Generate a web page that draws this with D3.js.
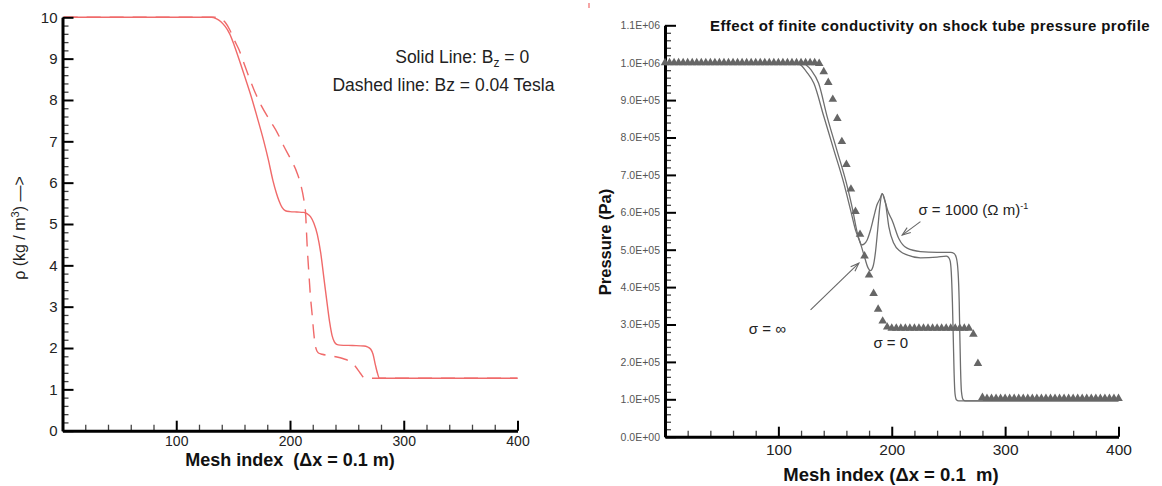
<!DOCTYPE html>
<html>
<head>
<meta charset="utf-8">
<script src="https://cdn.jsdelivr.net/npm/d3@7"></script>
<style>
  html, body { margin: 0; padding: 0; background: #fff; }
  svg { display: block; font-family: "Liberation Sans", Arial, sans-serif; }
</style>
</head>
<body>
<svg id="chart" width="1162" height="486"></svg>
<script>
// ---------------- DATA: left chart (density) ----------------
const solidX = [1, 131, 135, 139, 143, 147, 151, 156, 161, 166.8, 172, 177, 181, 185, 188, 190.5, 193, 196, 200, 206, 212, 215, 218, 221, 224, 227, 230, 233, 235, 237, 239, 241, 244, 255, 265, 268, 271, 273, 275, 277, 278.5, 400];
const solidY = [10, 10, 9.97, 9.9, 9.78, 9.6, 9.32, 8.92, 8.5, 8.0, 7.5, 7.0, 6.55, 6.05, 5.75, 5.55, 5.4, 5.32, 5.3, 5.29, 5.28, 5.25, 5.18, 5.02, 4.75, 4.3, 3.65, 3.0, 2.6, 2.3, 2.15, 2.09, 2.07, 2.06, 2.05, 2.03, 1.97, 1.85, 1.6, 1.38, 1.27, 1.27];
const dashedX = [1, 135, 139, 143, 147, 151, 155.1, 160, 164, 168.3, 175, 182.9, 189, 194.6, 200, 206.3, 209.5, 212.1, 213.6, 215.1, 216.5, 218, 219.5, 220.9, 222.5, 225, 228.2, 234, 240, 247, 253, 257, 261.8, 264.7, 267, 400];
const dashedY = [10, 10, 9.97, 9.88, 9.7, 9.45, 9.22, 8.85, 8.55, 8.25, 7.85, 7.48, 7.2, 6.88, 6.6, 6.23, 5.95, 5.6, 5.3, 4.46, 3.85, 3.24, 2.8, 2.36, 2.02, 1.88, 1.85, 1.82, 1.79, 1.74, 1.67, 1.57, 1.39, 1.29, 1.27, 1.27];
const rhoTicks = [0, 1, 2, 3, 4, 5, 6, 7, 8, 9, 10];
const meshTicks = [100, 200, 300, 400];

// ---------------- DATA: right chart (pressure, Pa) ----------------
const sigmaInfX = [0, 116, 120, 125, 131.3, 140.1, 148.9, 157.7, 163.6, 168, 172.4, 176.5, 179, 181.2, 183.5, 185.5, 187.5, 189.5, 191.5, 194, 197, 200.3, 206.2, 213.5, 225.3, 240, 252, 255, 257, 258.5, 259.5, 260, 260.7, 261.5, 263, 265, 400];
const sigmaInfY = [1.0e6, 1.0e6, 0.993e6, 0.975e6, 0.945e6, 0.856e6, 0.767e6, 0.678e6, 0.607e6, 0.553e6, 0.517e6, 0.475e6, 0.452e6, 0.444e6, 0.455e6, 0.49e6, 0.55e6, 0.615e6, 0.65e6, 0.63e6, 0.60e6, 0.579e6, 0.53e6, 0.504e6, 0.495e6, 0.493e6, 0.493e6, 0.49e6, 0.478e6, 0.44e6, 0.36e6, 0.28e6, 0.18e6, 0.12e6, 0.099e6, 0.096e6, 0.096e6];
const sigma1000X = [0, 120, 124.5, 129, 135.5, 143, 151.5, 160, 165.5, 169, 171.5, 173.3, 175.5, 178.3, 181, 184.2, 187, 189.9, 191.5, 194.5, 197.4, 201.8, 207.7, 213.5, 225.3, 240, 248, 250, 251.5, 252.5, 253.5, 254.3, 255, 255.8, 257, 259, 400];
const sigma1000Y = [1.0e6, 1.0e6, 0.994e6, 0.98e6, 0.945e6, 0.856e6, 0.767e6, 0.678e6, 0.607e6, 0.553e6, 0.525e6, 0.513e6, 0.515e6, 0.526e6, 0.55e6, 0.588e6, 0.62e6, 0.638e6, 0.65e6, 0.624e6, 0.562e6, 0.517e6, 0.495e6, 0.486e6, 0.478e6, 0.48e6, 0.483e6, 0.48e6, 0.47e6, 0.44e6, 0.36e6, 0.26e6, 0.17e6, 0.115e6, 0.099e6, 0.096e6, 0.096e6];
const sigma0X = [0, 4, 8, 12, 16, 20, 24, 28, 32, 36, 40, 44, 48, 52, 56, 60, 64, 68, 72, 76, 80, 84, 88, 92, 96, 100, 104, 108, 112, 116, 120, 124, 128, 132, 136,
  140, 144, 148, 152, 156, 160, 164, 168, 172, 176, 180, 184, 188, 192, 196,
  200, 204, 208, 212, 216, 220, 224, 228, 232, 236, 240, 244, 248, 252, 256, 260, 264, 268,
  272, 276, 280,
  284, 288, 292, 296, 300, 304, 308, 312, 316, 320, 324, 328, 332, 336, 340, 344, 348, 352, 356, 360, 364, 368, 372, 376, 380, 384, 388, 392, 396, 400];
const sigma0Y = [1.0e6, 1.0e6, 1.0e6, 1.0e6, 1.0e6, 1.0e6, 1.0e6, 1.0e6, 1.0e6, 1.0e6, 1.0e6, 1.0e6, 1.0e6, 1.0e6, 1.0e6, 1.0e6, 1.0e6, 1.0e6, 1.0e6, 1.0e6, 1.0e6, 1.0e6, 1.0e6, 1.0e6, 1.0e6, 1.0e6, 1.0e6, 1.0e6, 1.0e6, 1.0e6, 1.0e6, 1.0e6, 1.0e6, 1.0e6, 0.998e6,
  0.976e6, 0.947e6, 0.902e6, 0.851e6, 0.789e6, 0.728e6, 0.662e6, 0.602e6, 0.541e6, 0.483e6, 0.432e6, 0.383e6, 0.341e6, 0.309e6, 0.293e6,
  0.29e6, 0.29e6, 0.29e6, 0.29e6, 0.29e6, 0.29e6, 0.29e6, 0.29e6, 0.29e6, 0.29e6, 0.29e6, 0.29e6, 0.29e6, 0.29e6, 0.29e6, 0.29e6, 0.29e6, 0.29e6,
  0.274e6, 0.196e6, 0.105e6,
  1.02e5, 1.02e5, 1.02e5, 1.02e5, 1.02e5, 1.02e5, 1.02e5, 1.02e5, 1.02e5, 1.02e5, 1.02e5, 1.02e5, 1.02e5, 1.02e5, 1.02e5, 1.02e5, 1.02e5, 1.02e5, 1.02e5, 1.02e5, 1.02e5, 1.02e5, 1.02e5, 1.02e5, 1.02e5, 1.02e5, 1.02e5, 1.02e5, 1.02e5, 1.02e5];
const pressureTicks = [0, 1e5, 2e5, 3e5, 4e5, 5e5, 6e5, 7e5, 8e5, 9e5, 1.0e6, 1.1e6];

// ---------------- SETUP ----------------
const svg = d3.select("#chart");
svg.append("rect").attr("width", 1162).attr("height", 486).attr("fill", "#fff");

const RED = "#f06a6a";
const GRAY = "#6e6e6e";

function styleAxis(g, domainW) {
  g.select(".domain").attr("stroke", "#000").attr("stroke-width", domainW);
  g.selectAll(".tick line").attr("stroke", "#000").attr("stroke-width", 2);
}
function minorAxis(g) {
  g.select(".domain").remove();
  g.selectAll(".tick line").attr("stroke", "#444").attr("stroke-width", 1.3);
  g.selectAll(".tick text").remove();
}

// ---------------- LEFT CHART ----------------
const xL = d3.scaleLinear().domain([0, 400]).range([62.5, 517.5]);
const yL = d3.scaleLinear().domain([0, 10]).range([430.7, 17.3]);

const lineL = d3.line().x(d => xL(d[0])).y(d => yL(d[1])).curve(d3.curveMonotoneX);
svg.append("path").datum(solidX.map((x, i) => [x, solidY[i]]))
  .attr("d", lineL).attr("fill", "none").attr("stroke", RED).attr("stroke-width", 1.4);
svg.append("path").datum(dashedX.map((x, i) => [x, dashedY[i]]))
  .attr("d", lineL).attr("fill", "none").attr("stroke", RED).attr("stroke-width", 1.4)
  .attr("stroke-dasharray", "14,9");

// minor ticks
const rhoMinor = d3.range(0, 10.001, 0.2).filter(v => Math.abs(v - Math.round(v)) > 1e-6);
const meshMinor = d3.range(20, 400, 20).filter(v => v % 100 !== 0);
svg.append("g").attr("transform", `translate(${xL(0)},0)`)
  .call(d3.axisLeft(yL).tickValues(rhoMinor).tickSize(-6).tickSizeOuter(0)).call(minorAxis);
svg.append("g").attr("transform", `translate(0,${yL(0)})`)
  .call(d3.axisBottom(xL).tickValues(meshMinor).tickSize(-6).tickSizeOuter(0)).call(minorAxis);

const gyL = svg.append("g").attr("transform", `translate(${xL(0)},0)`)
  .call(d3.axisLeft(yL).tickValues(rhoTicks).tickFormat(d3.format("d")).tickSize(-11).tickSizeOuter(0).tickPadding(5));
styleAxis(gyL, 3);
gyL.selectAll(".tick text").attr("font-size", 15).attr("fill", "#222").attr("font-family", "Liberation Sans, Arial, sans-serif");

const gxL = svg.append("g").attr("transform", `translate(0,${yL(0)})`)
  .call(d3.axisBottom(xL).tickValues(meshTicks).tickFormat(d3.format("d")).tickSize(-10).tickSizeOuter(0).tickPadding(5));
styleAxis(gxL, 3);
gxL.selectAll(".tick text").attr("font-size", 14).attr("fill", "#222").attr("font-family", "Liberation Sans, Arial, sans-serif");

svg.append("text").attr("x", 290).attr("y", 466).attr("text-anchor", "middle")
  .attr("font-size", 18).attr("font-weight", "bold").attr("fill", "#111")
  .text("Mesh index \u00A0(\u0394x = 0.1 m)");

const yLab = svg.append("text").attr("transform", "translate(25,228) rotate(-90)")
  .attr("text-anchor", "middle").attr("font-size", 16).attr("fill", "#222");
yLab.append("tspan").text("\u03C1 (kg / m");
yLab.append("tspan").attr("dy", -6).attr("font-size", 11).text("3");
yLab.append("tspan").attr("dy", 6).text(") \u2014>");

// legend text
const leg1 = svg.append("text").attr("x", xL(292.5)).attr("y", yL(8.9))
  .attr("font-size", 17.5).attr("fill", "#222");
leg1.append("tspan").text("Solid Line: B");
leg1.append("tspan").attr("dy", 4).attr("font-size", 12).text("z");
leg1.append("tspan").attr("dy", -4).text(" = 0");
svg.append("text").attr("x", xL(237.3)).attr("y", yL(8.22))
  .attr("font-size", 17.5).attr("fill", "#222").text("Dashed line: Bz = 0.04 Tesla");

// small red mark near top middle (artifact in reference)
svg.append("line").attr("x1", 589).attr("x2", 589).attr("y1", 3).attr("y2", 8)
  .attr("stroke", RED).attr("stroke-width", 1.2);

// ---------------- RIGHT CHART ----------------
const xR = d3.scaleLinear().domain([0, 400]).range([665, 1118.5]);
const yR = d3.scaleLinear().domain([0, 1.1e6]).range([436.7, 25.3]);

const pMinor = d3.range(0, 1.1e6 + 1, 2e4).filter(v => Math.abs(v / 1e5 - Math.round(v / 1e5)) > 1e-6);
svg.append("g").attr("transform", `translate(${xR(0)},0)`)
  .call(d3.axisLeft(yR).tickValues(pMinor).tickSize(-6).tickSizeOuter(0)).call(minorAxis);
svg.append("g").attr("transform", `translate(0,${yR(0)})`)
  .call(d3.axisBottom(xR).tickValues(meshMinor).tickSize(-6).tickSizeOuter(0)).call(minorAxis);

const fmtE = d => {
  if (d === 0) return "0.0E+00";
  const e = Math.floor(Math.log10(d) + 1e-9);
  const m = d / Math.pow(10, e);
  return m.toFixed(1) + "E+" + String(e).padStart(2, "0");
};
const gyR = svg.append("g").attr("transform", `translate(${xR(0)},0)`)
  .call(d3.axisLeft(yR).tickValues(pressureTicks).tickFormat(fmtE).tickSize(-11).tickSizeOuter(0).tickPadding(5));
styleAxis(gyR, 3);
gyR.selectAll(".tick text").attr("font-size", 10.5).attr("fill", "#555").attr("font-family", "Liberation Sans, Arial, sans-serif");

const gxR = svg.append("g").attr("transform", `translate(0,${yR(0)})`)
  .call(d3.axisBottom(xR).tickValues(meshTicks).tickFormat(d3.format("d")).tickSize(-10).tickSizeOuter(0).tickPadding(7));
styleAxis(gxR, 3);
gxR.selectAll(".tick text").attr("font-size", 15.5).attr("fill", "#222").attr("font-family", "Liberation Sans, Arial, sans-serif");

const lineR = d3.line().x(d => xR(d[0])).y(d => yR(d[1])).curve(d3.curveMonotoneX);
svg.append("path").datum(sigmaInfX.map((x, i) => [x, sigmaInfY[i]]))
  .attr("d", lineR).attr("fill", "none").attr("stroke", GRAY).attr("stroke-width", 1.3);
svg.append("path").datum(sigma1000X.map((x, i) => [x, sigma1000Y[i]]))
  .attr("d", lineR).attr("fill", "none").attr("stroke", GRAY).attr("stroke-width", 1.3);

const tri = d3.symbol().type(d3.symbolTriangle).size(32);
svg.append("g").selectAll("path").data(sigma0X.map((x, i) => [x, sigma0Y[i]]))
  .join("path").attr("d", tri)
  .attr("transform", d => `translate(${xR(d[0])},${yR(d[1])})`)
  .attr("fill", "#666");

// title and axis labels
svg.append("text").attr("x", 930).attr("y", 31).attr("text-anchor", "middle")
  .attr("font-size", 15).attr("font-weight", "bold").attr("fill", "#111")
  .attr("letter-spacing", 0.4)
  .text("Effect of finite conductivity on shock tube pressure profile");
svg.append("text").attr("x", 891).attr("y", 481).attr("text-anchor", "middle")
  .attr("font-size", 18.5).attr("font-weight", "bold").attr("fill", "#111")
  .text("Mesh index (\u0394x = 0.1 \u00A0m)");
svg.append("text").attr("transform", "translate(611,242) rotate(-90)")
  .attr("text-anchor", "middle").attr("font-size", 16.5).attr("font-weight", "bold").attr("fill", "#111")
  .text("Pressure (Pa)");

// annotations
function arrow(x0, y0, x1, y1) {
  const X0 = xR(x0), Y0 = yR(y0), X1 = xR(x1), Y1 = yR(y1);
  const a = Math.atan2(Y0 - Y1, X0 - X1);
  const L = 9, s = 0.35;
  const g = svg.append("g").attr("stroke", "#666").attr("stroke-width", 1.1).attr("fill", "none");
  g.append("line").attr("x1", X0).attr("y1", Y0).attr("x2", X1).attr("y2", Y1);
  g.append("path").attr("d",
    `M${X1 + L * Math.cos(a + s)},${Y1 + L * Math.sin(a + s)}L${X1},${Y1}L${X1 + L * Math.cos(a - s)},${Y1 + L * Math.sin(a - s)}`);
}
arrow(128.4, 3.39e5, 171, 4.64e5);
arrow(225.3, 5.75e5, 209.2, 5.39e5);

const t1 = svg.append("text").attr("x", xR(223.5)).attr("y", yR(5.93e5)).attr("font-size", 15).attr("fill", "#222");
t1.append("tspan").text("\u03C3 = 1000 (\u03A9 m)");
t1.append("tspan").attr("dy", -6).attr("font-size", 9).text("-1");
svg.append("text").attr("x", xR(73.9)).attr("y", yR(2.74e5)).attr("font-size", 15).attr("fill", "#222")
  .text("\u03C3 = \u221E");
svg.append("text").attr("x", xR(183.8)).attr("y", yR(2.37e5)).attr("font-size", 15).attr("fill", "#222")
  .text("\u03C3 = 0");
</script>
</body>
</html>
